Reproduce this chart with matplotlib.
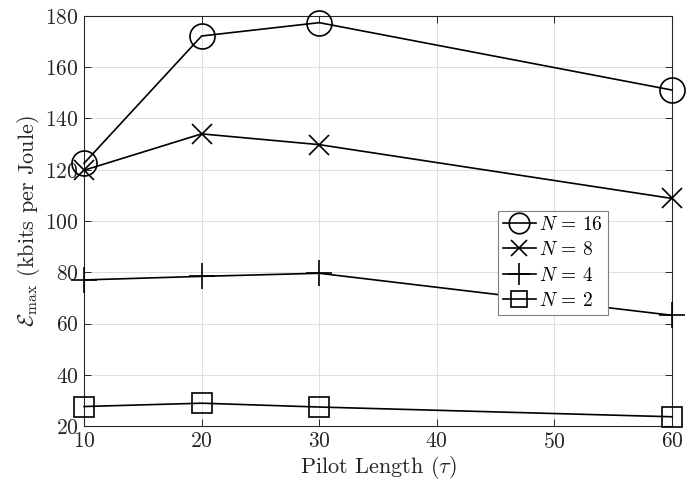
import matplotlib
matplotlib.use("Agg")
import matplotlib.pyplot as plt

plt.rcParams['font.family'] = 'serif'
plt.rcParams['font.serif'] = ['cmr10']
plt.rcParams['mathtext.fontset'] = 'cm'
plt.rcParams['axes.formatter.use_mathtext'] = True
plt.rcParams['axes.unicode_minus'] = False

pilot_len = [10, 20, 30, 60]
eff_n16 = [122.5, 172.2, 177.4, 151.1]
eff_n8 = [119.8, 134.0, 129.8, 108.8]
eff_n4 = [77.0, 78.4, 79.6, 63.2]
eff_n2 = [27.6, 28.9, 27.4, 23.6]

series = [
    (eff_n16, 'o', 18, r'$N\,=\,16$'),
    (eff_n8, 'x', 14, r'$N\,=\,8$'),
    (eff_n4, '+', 19, r'$N\,=\,4$'),
    (eff_n2, 's', 14, r'$N\,=\,2$'),
]

axc = '#262626'
fig = plt.figure(figsize=(6.86, 4.90), dpi=100)
ax = fig.add_axes([84/686, 1 - 426/490, (672-84)/686, (426-16)/490])

for vals, mk, ms, lab in series:
    ax.plot(pilot_len, vals, color='black', lw=1.2, marker=mk, ms=ms,
            mfc='none', mec='black', mew=1.2, label=lab, clip_on=False, zorder=3)

ax.set_xlim(10, 60)
ax.set_ylim(20, 180)
ax.set_xticks([10, 20, 30, 40, 50, 60])
ax.set_yticks(range(20, 181, 20))
ax.grid(True, color='#dedede', lw=0.7)
ax.set_axisbelow(True)
ax.tick_params(direction='in', top=True, right=True, length=5, width=0.7,
               colors=axc, labelsize=15.5, labelcolor='#262626', pad=4)
for sp in ax.spines.values():
    sp.set_color(axc)
    sp.set_linewidth(0.8)

ax.set_xlabel(r'Pilot Length ($\tau$)', fontsize=16, color='#262626', labelpad=2)
ax.set_ylabel(r'$\mathcal{E}_{\max}$ (kbits per Joule)', fontsize=16, color='#262626', labelpad=2)

leg = ax.legend(loc='upper left', bbox_to_anchor=((498-84)/588, (426-211)/410),
                fontsize=14, frameon=True, fancybox=False, framealpha=1,
                edgecolor='#7f7f7f', handlelength=1.7, handletextpad=0.15,
                borderpad=0.25, labelspacing=0.38, borderaxespad=0, markerscale=0.82)
leg.get_frame().set_linewidth(0.8)

fig.savefig('out.png', dpi=100)
